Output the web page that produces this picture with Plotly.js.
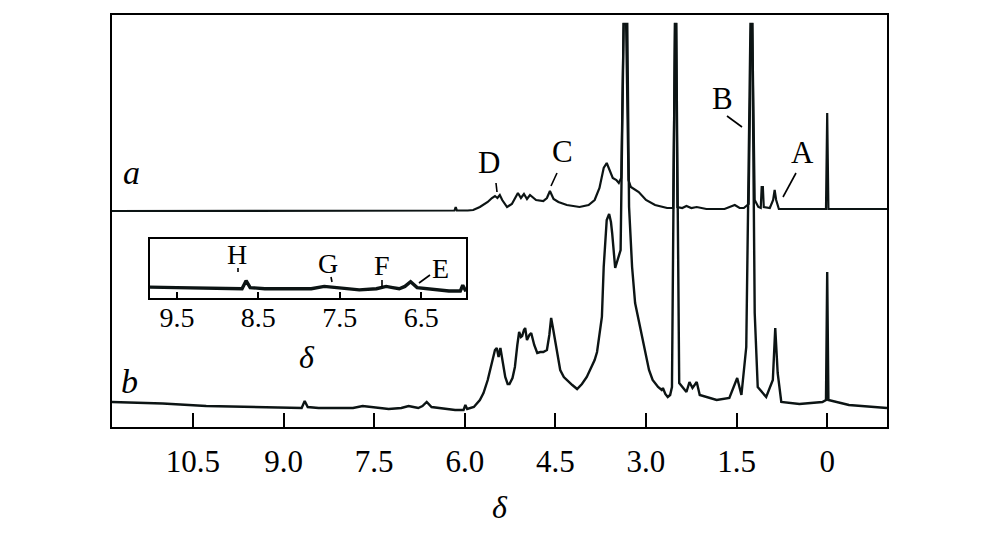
<!DOCTYPE html>
<html>
<head>
<meta charset="utf-8">
<script src="https://cdn.plot.ly/plotly-3.0.1.min.js"></script>
<style>html,body{margin:0;padding:0;background:#fff;}#chart{width:1000px;height:553px;}</style>
</head>
<body>
<div id="chart"></div>
<script>
// ---- Data (chemical shift δ / ppm, intensity in arbitrary units) ----
// Spectrum a
const shiftA = [11.84,10.5,9.0,7.5,6.5,6.17,6.15,6.13,5.95,5.86,5.75,5.62,5.55,5.50,5.46,5.42,5.38,5.30,5.22,5.15,5.12,5.07,5.02,4.97,4.92,4.82,4.70,4.64,4.59,4.53,4.45,4.31,4.10,3.95,3.85,3.77,3.70,3.65,3.60,3.55,3.49,3.45,3.41,3.37,3.33,3.29,3.25,3.12,3.00,2.85,2.65,2.55,2.52,2.50,2.48,2.40,2.33,2.25,2.16,2.00,1.70,1.60,1.53,1.45,1.38,1.30,1.26,1.24,1.20,1.14,1.10,1.085,1.065,1.05,0.95,0.895,0.87,0.845,0.80,0.40,0.02,0.0,-0.02,-0.99];
const intenA = [-1,-1,-1,-1,-0.5,-0.5,3,-0.5,-0.5,0,3,8,12,14,12,15,10,3,6,14,17,12,16,11,15,10,9,12,19,11,8,5,3,5,10,22,42,47,40,32,30,27,32,186,186,30,23,18,10,5,2,2,186,186,3,2,4,2,3,1,1,3,5,2,2,6,186,186,10,3,2,23,23,3,2,10,20,10,1,1,1,97,1,1];

// Spectrum b
const shiftB = [11.84,11.0,10.28,9.5,8.9,8.70,8.65,8.60,8.42,8.09,7.85,7.69,7.55,7.26,7.05,6.93,6.85,6.77,6.70,6.63,6.55,6.44,6.16,6.02,5.99,5.96,5.91,5.85,5.75,5.69,5.62,5.58,5.53,5.50,5.47,5.44,5.41,5.38,5.33,5.29,5.26,5.21,5.17,5.13,5.10,5.07,5.05,5.02,5.00,4.97,4.93,4.90,4.85,4.80,4.75,4.70,4.64,4.60,4.57,4.54,4.50,4.45,4.42,4.36,4.31,4.22,4.14,4.06,3.98,3.90,3.85,3.81,3.77,3.73,3.70,3.67,3.65,3.61,3.58,3.56,3.53,3.51,3.47,3.44,3.42,3.37,3.31,3.28,3.25,3.23,3.18,3.14,3.10,3.06,3.02,2.95,2.89,2.80,2.74,2.72,2.68,2.64,2.60,2.57,2.52,2.50,2.45,2.33,2.28,2.23,2.16,2.11,1.83,1.62,1.49,1.42,1.34,1.27,1.24,1.20,1.15,1.01,0.90,0.86,0.82,0.76,0.46,0.08,0.02,0.0,-0.02,-0.36,-0.99];
const intenB = [7,5.5,3,2,1,1,8,2,1,1,1,3,2,0,1,3,2,1,3,7,2,1,-1,-1,4,0,1,2,9,16,29,39,52,59,61,52,61,49,32,25,25,31,42,64,77,72,73,79,81,69,74,76,64,56,57,57,59,74,91,81,66,49,39,32,29,24,20,25,32,42,49,57,74,92,142,174,189,195,187,176,154,141,149,154,159,385,385,202,164,142,106,94,84,72,57,39,29,22,19,21,15,12,14,22,385,385,26,17,27,21,27,14,9,11,31,14,62,385,385,96,22,12,29,81,36,7,5,7,9,137,9,4,1];

// Axis tick labels
const mainTickVals = [10.5, 9.0, 7.5, 6.0, 4.5, 3.0, 1.5, 0];
const mainTickText = ['10.5', '9.0', '7.5', '6.0', '4.5', '3.0', '1.5', '0'];
const insetTickVals = [9.5, 8.5, 7.5, 6.5];
const insetTickText = ['9.5', '8.5', '7.5', '6.5'];

// Peak labels
const spectrumLabels = ['a', 'b'];
const peakLabelsMain = ['D', 'C', 'B', 'A'];
const peakLabelsInset = ['H', 'G', 'F', 'E'];

// ---- Presentation ----
const offsetA = 217, offsetB = 18;   // vertical stacking of the two spectra
const FONT = 'Liberation Serif, Times New Roman, Times, serif';
const lineColor = '#0c1414';

// pixel -> paper helpers (plot area: x 112..887, y 15..427)
const PL = 112, PR = 887, PT = 15, PB = 427;
const px = v => (v - PL) / (PR - PL);
const py = v => (PB - v) / (PB - PT);

const traces = [
  {x: shiftA, y: intenA.map(v => v + offsetA), type: 'scatter', mode: 'lines',
   line: {color: lineColor, width: 2.2}, xaxis: 'x', yaxis: 'y', hoverinfo: 'skip'},
  {x: shiftB, y: intenB.map(v => v + offsetB), type: 'scatter', mode: 'lines',
   line: {color: lineColor, width: 2.4}, xaxis: 'x', yaxis: 'y', hoverinfo: 'skip'},
  {x: shiftB, y: intenB, type: 'scatter', mode: 'lines',
   line: {color: lineColor, width: 3.4}, xaxis: 'x2', yaxis: 'y2', hoverinfo: 'skip'}
];

const ann = (text, x, y, size, italic) => ({
  text: text, x: px(x), y: py(y), xref: 'paper', yref: 'paper',
  showarrow: false, xanchor: 'center', yanchor: 'middle',
  font: {family: FONT, size: size, color: '#000', style: italic ? 'italic' : 'normal'}
});
const seg = (x0, y0, x1, y1) => ({
  type: 'line', xref: 'paper', yref: 'paper',
  x0: px(x0), y0: py(y0), x1: px(x1), y1: py(y1),
  line: {color: '#000', width: 1.6}
});

const annotations = [
  ann(spectrumLabels[0], 131, 172, 34, true),
  ann(spectrumLabels[1], 129, 381, 34, true),
  ann(peakLabelsMain[0], 489, 163, 31),
  ann(peakLabelsMain[1], 562, 152, 31),
  ann(peakLabelsMain[2], 722, 98, 31),
  ann(peakLabelsMain[3], 802, 153, 31),
  ann(peakLabelsInset[0], 237, 255, 28),
  ann(peakLabelsInset[1], 328, 263, 28),
  ann(peakLabelsInset[2], 382, 265, 28),
  ann(peakLabelsInset[3], 440, 268, 28),
  ann('δ', 307, 357, 32, true)
];

const shapes = [
  seg(496, 183, 497, 192),
  seg(557, 173, 551, 186),
  seg(727, 116, 742, 127),
  seg(796, 173, 783, 197),
  seg(238, 268, 238, 272),
  seg(331, 277, 332, 282),
  seg(382, 280, 382, 287),
  seg(430, 275, 419, 283)
];

const axisLine = {showline: true, mirror: true, linecolor: '#000', linewidth: 2,
                  showgrid: false, zeroline: false};

const layout = {
  width: 1000, height: 553,
  margin: {l: PL, r: 1000 - PR, t: PT, b: 553 - PB},
  paper_bgcolor: '#fff', plot_bgcolor: '#fff',
  showlegend: false,
  font: {family: FONT, color: '#000'},
  xaxis: Object.assign({}, axisLine, {
    range: [11.84, -0.99], tickmode: 'array', tickvals: mainTickVals, ticktext: mainTickText,
    ticks: 'inside', ticklen: 14, tickwidth: 2, tickcolor: '#000',
    ticklabelstandoff: 6,
    tickfont: {family: FONT, size: 31, color: '#000'},
    title: {text: 'δ', font: {family: FONT, size: 32, style: 'italic', color: '#000'}, standoff: 17}
  }),
  yaxis: Object.assign({}, axisLine, {range: [0, 412], showticklabels: false, ticks: ''}),
  xaxis2: Object.assign({}, axisLine, {
    domain: [px(150), px(466)], anchor: 'y2',
    range: [9.83, 5.95], tickmode: 'array', tickvals: insetTickVals, ticktext: insetTickText,
    ticks: 'inside', ticklen: 6, tickwidth: 2, tickcolor: '#000',
    ticklabelstandoff: -7,
    tickfont: {family: FONT, size: 28, color: '#000'}
  }),
  yaxis2: Object.assign({}, axisLine, {
    domain: [py(298), py(239)], anchor: 'x2', range: [-7, 44],
    showticklabels: false, ticks: ''
  }),
  annotations: annotations,
  shapes: shapes
};

Plotly.newPlot('chart', traces, layout, {displayModeBar: false, staticPlot: true});
</script>
</body>
</html>
